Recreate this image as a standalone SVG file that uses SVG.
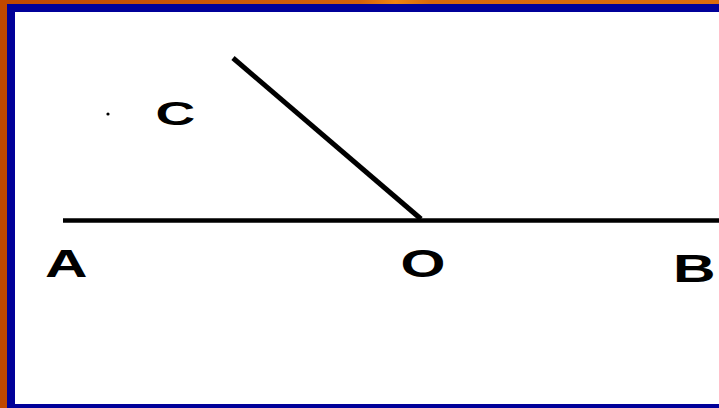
<svg xmlns="http://www.w3.org/2000/svg" width="719" height="408" viewBox="0 0 719 408">
  <defs>
    <linearGradient id="bg" x1="0" y1="0" x2="1" y2="0">
      <stop offset="0" stop-color="#C04800"/>
      <stop offset="0.5" stop-color="#D4620A"/>
      <stop offset="0.55" stop-color="#EE8410"/>
      <stop offset="0.6" stop-color="#D8680A"/>
      <stop offset="1" stop-color="#DC6C0C"/>
    </linearGradient>
    <style>
      .lbl { font-family: "Liberation Sans", Arial, sans-serif; font-weight: bold; fill: #000; }
      .ln { stroke: #000; stroke-width: 4.5; stroke-linecap: butt; fill: none; }
    </style>
  </defs>
  <g id="frame">
    <rect x="0" y="0" width="719" height="408" fill="url(#bg)"/>
    <rect x="7" y="4" width="712" height="404" fill="#000099"/>
    <rect x="15" y="12" width="704" height="392" fill="#FFFFFF"/>
  </g>
  <g id="connectors">
    <line class="ln" x1="63" y1="220.5" x2="719" y2="220.5"/>
    <line class="ln" x1="233" y1="58" x2="421" y2="219" style="stroke-width:5"/>
  </g>
  <g id="point-dot">
    <circle cx="108" cy="114" r="1.6" fill="#000"/>
  </g>
  <g id="label-C">
    <text class="lbl" font-size="34" transform="translate(155.5,124.5) scale(1.62,1)">C</text>
  </g>
  <g id="label-A">
    <text class="lbl" font-size="38" transform="translate(45,277) scale(1.55,1)">A</text>
  </g>
  <g id="label-O">
    <text class="lbl" font-size="38" transform="translate(400.6,277) scale(1.52,1)">O</text>
  </g>
  <g id="label-B">
    <text class="lbl" font-size="38" transform="translate(673,282) scale(1.55,1)">B</text>
  </g>
</svg>
